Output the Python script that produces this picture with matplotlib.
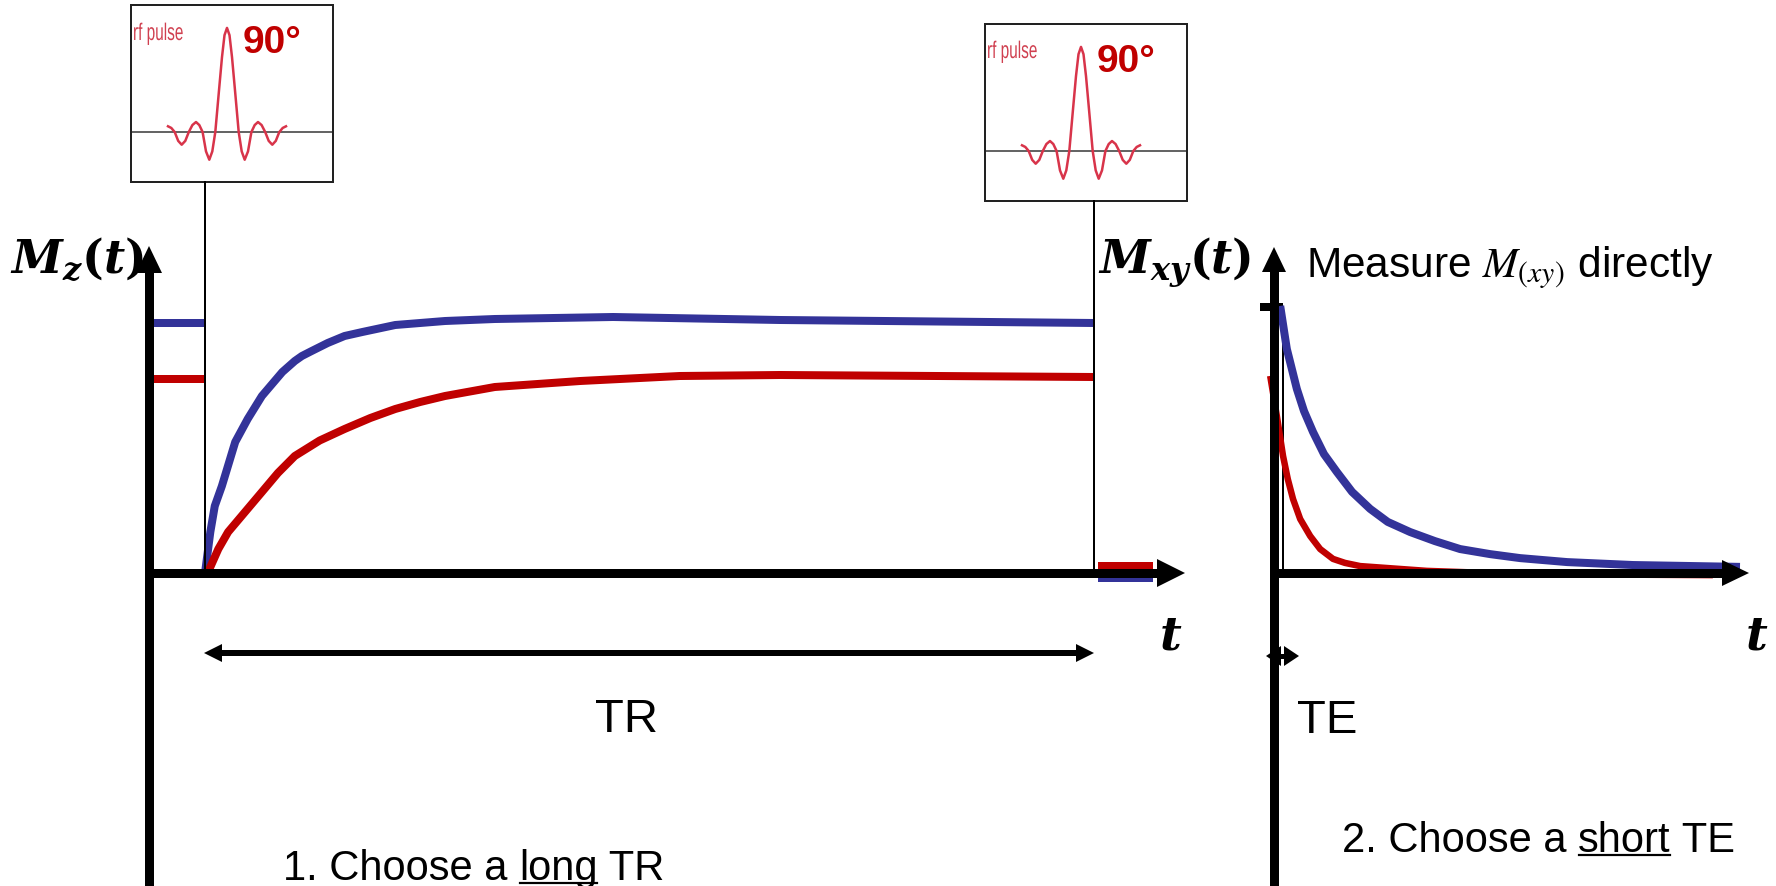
import numpy as np
import matplotlib
matplotlib.use("Agg")
import matplotlib.pyplot as plt
from matplotlib.textpath import TextPath
from matplotlib.patches import PathPatch
from matplotlib.font_manager import FontProperties
from matplotlib.transforms import Affine2D

# bold italic serif for the math labels
plt.rcParams['mathtext.fontset'] = 'custom'
plt.rcParams['mathtext.it'] = 'DejaVu Serif:italic:bold'
plt.rcParams['mathtext.rm'] = 'DejaVu Serif:bold'
plt.rcParams['mathtext.bf'] = 'DejaVu Serif:bold'
plt.rcParams['font.family'] = ['Liberation Sans', 'DejaVu Sans']

BLUE = '#333399'
RED = '#C00000'
PULSE = '#d8344a'

# ---- data ----
# T1 recovery after the 90 pulse (t in units of TR, Mz in units of blue M0)
t1_blue_t = [0.0, 0.006, 0.011, 0.019, 0.034, 0.048, 0.064, 0.087, 0.101, 0.109,
             0.120, 0.138, 0.157, 0.177, 0.214, 0.270, 0.326, 0.459, 0.647, 1.0]
t1_blue_mz = [0.0, 0.164, 0.268, 0.348, 0.524, 0.616, 0.708, 0.804, 0.848, 0.868,
              0.888, 0.920, 0.948, 0.964, 0.992, 1.008, 1.016, 1.024, 1.012, 1.0]
t1_red_t = [0.003, 0.015, 0.026, 0.045, 0.064, 0.082, 0.101, 0.129, 0.157, 0.186,
            0.214, 0.242, 0.270, 0.326, 0.422, 0.534, 0.647, 1.0]
t1_red_mz = [0.0, 0.096, 0.164, 0.244, 0.324, 0.400, 0.468, 0.530, 0.576, 0.620,
             0.656, 0.684, 0.708, 0.744, 0.768, 0.788, 0.792, 0.784]
level_blue = 1.0
level_red = 0.776
after_pulse_red = 0.028
after_pulse_blue = -0.02

# T2 decay (t in units of the right axis length, Mxy in units of the tick)
t2_blue_t = [0.013, 0.027, 0.048, 0.063, 0.082, 0.105, 0.132, 0.164, 0.202, 0.239,
             0.286, 0.338, 0.391, 0.454, 0.517, 0.616, 0.754, 0.979]
t2_blue_m = [1.004, 0.842, 0.692, 0.609, 0.530, 0.447, 0.380, 0.305, 0.241, 0.192,
             0.154, 0.120, 0.090, 0.071, 0.056, 0.041, 0.030, 0.023]
t2_red_t = [-0.008, 0.006, 0.019, 0.029, 0.040, 0.055, 0.076, 0.097, 0.124, 0.149,
            0.181, 0.321, 0.517, 0.922]
t2_red_m = [0.741, 0.590, 0.440, 0.353, 0.278, 0.203, 0.139, 0.090, 0.053, 0.038,
            0.026, 0.008, -0.004, -0.008]
te_time = 0.019

# rf pulse shape (time offset, relative amplitude)
rf_t = [-59, -55.7, -52.3, -48.8, -45.3, -41.7, -38.2, -34.6, -31, -27.7, -24.4,
        -21, -17.7, -14.7, -11.7, -8, -5, -2.5, 0, 2.5, 5, 8, 11.7, 14.7, 17.7,
        21, 24.4, 27.7, 31, 34.6, 38.2, 41.7, 45.3, 48.8, 52.3, 55.7, 59]
rf_a = [0.055, 0.039, 0.0, -0.085, -0.122, -0.085, 0.0, 0.067, 0.096, 0.067, 0.0,
        -0.186, -0.266, -0.186, 0.0, 0.40, 0.72, 0.93, 1.0, 0.93, 0.72, 0.40, 0.0,
        -0.186, -0.266, -0.186, 0.0, 0.067, 0.096, 0.067, 0.0, -0.085, -0.122,
        -0.085, 0.0, 0.039, 0.055]

W, H = 1776, 887
fig = plt.figure(figsize=(W / 100, H / 100), dpi=100)


def pt(px):
    return px * 72.0 / 100.0


# canvas in pixel units for the drawing frame
cv = fig.add_axes([0, 0, 1, 1])
cv.set_xlim(0, W)
cv.set_ylim(H, 0)
cv.axis('off')


def arrow(ax, x0, y0, x1, y1, lw, hl, hw, both=False):
    p0 = np.array([x0, y0], float)
    p1 = np.array([x1, y1], float)
    u = (p1 - p0) / np.hypot(*(p1 - p0))
    n = np.array([-u[1], u[0]])
    b1 = p1 - u * hl
    s = p0
    if both:
        b0 = p0 + u * hl
        tri = np.array([p0, b0 + n * hw, b0 - n * hw])
        ax.fill(tri[:, 0], tri[:, 1], color='k', lw=0, zorder=3)
        s = b0 - u * 1
    ax.plot([s[0], b1[0] + u[0]], [s[1], b1[1] + u[1]], color='k', lw=pt(lw),
            solid_capstyle='butt', zorder=3)
    tri = np.array([p1, b1 + n * hw, b1 - n * hw])
    ax.fill(tri[:, 0], tri[:, 1], color='k', lw=0, zorder=3)


# axes of the two plots
arrow(cv, 149, H + 5, 149, 247, 9, 27, 13)
arrow(cv, 145, 574, 1185, 574, 9, 28, 14)
arrow(cv, 1274, H + 5, 1274, 248, 9, 25, 12)
arrow(cv, 1270, 574, 1749, 574, 9, 27, 13)

# pulse markers
cv.plot([205, 205], [183, 574], color='k', lw=pt(2), zorder=2)
cv.plot([1094, 1094], [202, 574], color='k', lw=pt(2), zorder=2)

# TR and TE spans
arrow(cv, 204, 654, 1094, 654, 6, 18, 9, both=True)
arrow(cv, 1266, 657, 1299, 657, 5, 15, 10, both=True)
cv.text(626, 732, 'TR', fontsize=34, ha='center', va='baseline')
cv.text(1297, 733, 'TE', fontsize=34, ha='left', va='baseline')

# axis labels
cv.text(10, 273, r'$M_z(t)$', fontsize=33, va='baseline', zorder=4)
cv.text(1098, 273, r'$M_{xy}(t)$', fontsize=33, va='baseline', zorder=4)
cv.text(1171, 650, r'$t$', fontsize=34, ha='center', va='baseline')
cv.text(1757, 650, r'$t$', fontsize=34, ha='center', va='baseline')
cv.text(1306, 277, r'Measure $M_{(xy)}$ directly', fontsize=30.5, va='baseline',
        math_fontfamily='stix')

renderer = fig.canvas.get_renderer()


def line_with_underline(x, y, parts, size):
    for s, under in parts:
        t = cv.text(x, y, s, fontsize=size, va='baseline')
        w = t.get_window_extent(renderer).width
        if under:
            cv.plot([x + 1, x + w - 1], [y + 4, y + 4], color='k', lw=pt(2.2))
        x += w


line_with_underline(283, 880, [('1. Choose a ', False), ('long', True), (' TR', False)], 30)
line_with_underline(1342, 852, [('2. Choose a ', False), ('short', True), (' TE', False)], 30)


def narrow_text(x, y, s, size, sx, color):
    tp = TextPath((0, 0), s, size=size, prop=FontProperties(family='Liberation Sans'))
    tr = Affine2D().scale(sx, -1).translate(x, y) + cv.transData
    cv.add_patch(PathPatch(tp, transform=tr, facecolor=color, edgecolor='none', zorder=6))


# left plot: Mz recovery
ax_l = fig.add_axes([0, 0, 1, 1])
ax_l.set_xlim(-205 / 889, (W - 205) / 889)
ax_l.set_ylim(-313 / 250, (H - 313) / 250)
ax_l.axis('off')
ax_l.patch.set_visible(False)
lvl_t = [-0.062, 0.0]
ax_l.plot(lvl_t, [level_blue] * 2, color=BLUE, lw=pt(8), solid_capstyle='butt')
ax_l.plot(lvl_t, [level_red] * 2, color=RED, lw=pt(8), solid_capstyle='butt')
ax_l.plot(t1_blue_t, t1_blue_mz, color=BLUE, lw=pt(8), solid_capstyle='butt')
ax_l.plot(t1_red_t, t1_red_mz, color=RED, lw=pt(8), solid_capstyle='butt')
end_t = [1.005, 1.066]
ax_l.plot(end_t, [after_pulse_red] * 2, color=RED, lw=pt(8), solid_capstyle='butt')
ax_l.plot(end_t, [after_pulse_blue] * 2, color=BLUE, lw=pt(8), solid_capstyle='butt')

# right plot: Mxy decay
ax_r = fig.add_axes([0, 0, 1, 1])
ax_r.set_xlim(-1274 / 476, (W - 1274) / 476)
ax_r.set_ylim(-313 / 266, (H - 313) / 266)
ax_r.axis('off')
ax_r.patch.set_visible(False)
ax_r.plot([-14 / 476, 9 / 476], [1.0, 1.0], color='k', lw=pt(8), solid_capstyle='butt')
ax_r.plot([te_time, te_time], [0, 1.0], color='k', lw=pt(2))
ax_r.plot(t2_blue_t, t2_blue_m, color=BLUE, lw=pt(8), solid_capstyle='butt')
ax_r.plot(t2_red_t, t2_red_m, color=RED, lw=pt(6.5), solid_capstyle='butt')


# rf pulse boxes
def rf_box(x0, x1, y0, y1, xc):
    ax = fig.add_axes([x0 / W, 1 - y1 / H, (x1 - x0) / W, (y1 - y0) / H])
    ax.set_xlim(x0 - xc, x1 - xc)
    ax.set_ylim(-0.48, 1.22)
    ax.set_xticks([])
    ax.set_yticks([])
    for sp in ax.spines.values():
        sp.set_linewidth(pt(2))
        sp.set_color('#222222')
    ax.axhline(0, color='#333333', lw=pt(1.5))
    ax.plot(rf_t, rf_a, color=PULSE, lw=pt(2.5))
    ax.text(0.555, 0.735, '90°', transform=ax.transAxes, color=RED, fontsize=28,
            fontweight='bold', va='baseline')
    return ax


rf_box(131, 333, 6, 183, 227)
rf_box(985, 1187, 25, 202, 1081)
# condensed "rf pulse" captions, drawn above the boxes
cv.set_zorder(5)
cv.patch.set_visible(False)
narrow_text(133, 41, 'rf pulse', 24, 0.64, '#d04050')
narrow_text(987, 59, 'rf pulse', 24, 0.64, '#d04050')

fig.savefig('out.png', dpi=100)
